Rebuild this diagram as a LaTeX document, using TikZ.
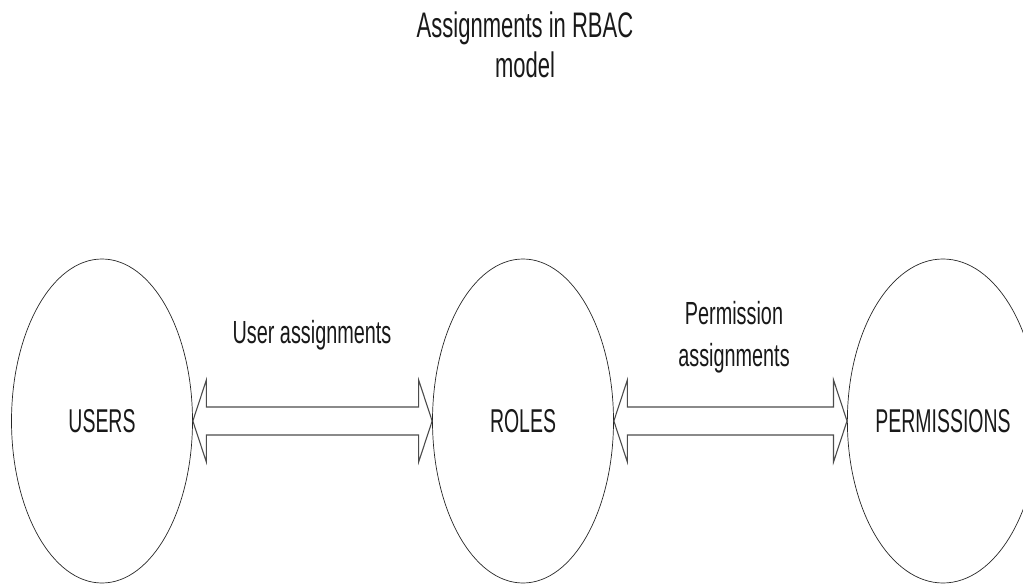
\documentclass[tikz,border=0pt]{standalone}
\usepackage{fontspec}
\setmainfont{Liberation Sans}[FakeStretch=0.62]
\newfontfamily\setnamefont{Liberation Sans}[FakeStretch=0.59]
\usetikzlibrary{shapes.geometric,calc}
\begin{document}
\begin{tikzpicture}[x=1pt,y=-1pt,
  set/.style={ellipse,draw=black!85,line width=0.7pt,minimum width=181pt,minimum height=324pt,inner sep=0pt,
    font=\setnamefont\fontsize{33}{40}\selectfont,text=black!90},
  label/.style={inner sep=0pt,align=center,font=\fontsize{32}{42}\selectfont,text=black!90},
  heading/.style={label,font=\fontsize{35.5}{39.5}\selectfont},
  hollow/.style={draw=black!70,line width=1.1pt,line join=miter,fill=white}]
\useasboundingbox (0,0) rectangle (1023,585);

% the three sets
\node[set] (users) at (102,421) {USERS};
\node[set] (roles) at (523,421) {ROLES};
\node[set] (perms) at (943,421) {PERMISSIONS};

% title and connector captions
\node[heading] (title) at (525,45) {Assignments in RBAC\\model};
\node[label] (ua) at (312,335) {User assignments};
\node[label] (pa) at (734,337) {Permission\\assignments};

% hollow double-headed arrows between the sets
\newcommand{\hollowarrow}[2]{%
  \draw[hollow] (#1) -- ($(#1)+(13.5,-41)$) -- ($(#1)+(13.5,-14)$)
    -- ($(#2)+(-13.5,-14)$) -- ($(#2)+(-13.5,-41)$) -- (#2)
    -- ($(#2)+(-13.5,41)$) -- ($(#2)+(-13.5,14)$)
    -- ($(#1)+(13.5,14)$) -- ($(#1)+(13.5,41)$) -- cycle;}
\hollowarrow{users.east}{roles.west}
\hollowarrow{roles.east}{perms.west}
\end{tikzpicture}
\end{document}
